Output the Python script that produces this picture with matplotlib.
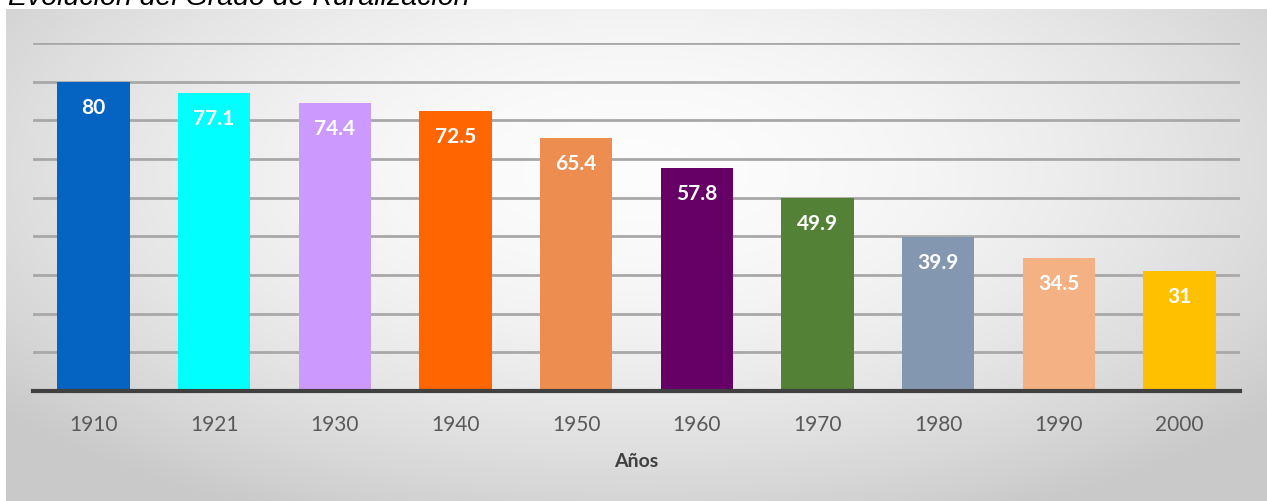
import numpy as np
import matplotlib.pyplot as plt

# Grado de ruralización por año censal (%)
anios = ['1910', '1921', '1930', '1940', '1950', '1960', '1970', '1980', '1990', '2000']
valores = [80, 77.1, 74.4, 72.5, 65.4, 57.8, 49.9, 39.9, 34.5, 31]
colores = ['#0563C1', '#00FFFF', '#CC99FF', '#FF6600', '#EE8D50',
           '#660066', '#538135', '#8497B0', '#F4B183', '#FFC000']

W, H = 1267, 502
fig = plt.figure(figsize=(W / 100, H / 100), dpi=100)
fig.patch.set_facecolor('white')

# Fondo con degradado radial (blanco al centro, gris en los bordes)
bg = fig.add_axes([6 / W, 0, 1 - 6 / W, 1 - 10 / H])
bg.set_axis_off()
yy, xx = np.mgrid[-1:1:300j, -1:1:700j]
r = np.sqrt(xx ** 2 + ((yy + 0.35) / 1.2) ** 2)
r = np.clip(r / 1.3, 0, 1)
g = 0.99 - 0.20 * r ** 1.8
bg.imshow(np.dstack([g, g, g]), aspect='auto', extent=[0, 1, 0, 1],
          interpolation='bicubic')
bg.set_xlim(0, 1)
bg.set_ylim(0, 1)

ax = fig.add_axes([33 / W, 1 - 392 / H, (1240 - 33) / W, (392 - 44) / H])
ax.patch.set_alpha(0)

x = np.arange(len(anios))
bars = ax.bar(x, valores, width=0.6, color=colores, zorder=3)

ax.set_xlim(-0.5, len(anios) - 0.5)
ax.set_ylim(0, 90)
ax.set_yticks(np.arange(10, 91, 10))
ax.yaxis.grid(True, color='#a8a8a8', linewidth=2, zorder=0)
ax.tick_params(axis='y', left=False, labelleft=False)
ax.tick_params(axis='x', bottom=False, pad=13)
for s in ['top', 'right', 'left']:
    ax.spines[s].set_visible(False)
ax.spines['bottom'].set_color('#404040')
ax.spines['bottom'].set_linewidth(3)
ax.spines['bottom'].set_zorder(4)

ax.set_xticks(x)
ax.set_xticklabels(anios, fontsize=15, color='#595959', family='Lato')
ax.set_xlabel('Años', fontsize=14, fontweight='bold', color='#404040',
              family='Lato', labelpad=13)

for b, v in zip(bars, valores):
    ax.annotate(f'{v:g}', (b.get_x() + b.get_width() / 2, v),
                xytext=(0, -18), textcoords='offset points',
                ha='center', va='center', color='white',
                fontsize=15, fontweight='bold', family='Lato', zorder=5)

fig.text(8 / W, 1 - 5 / H, 'Evolución del Grado de Ruralización',
         fontsize=20.5, style='italic', family='Liberation Sans',
         ha='left', va='baseline', color='black')

fig.savefig('out.png', dpi=100)
